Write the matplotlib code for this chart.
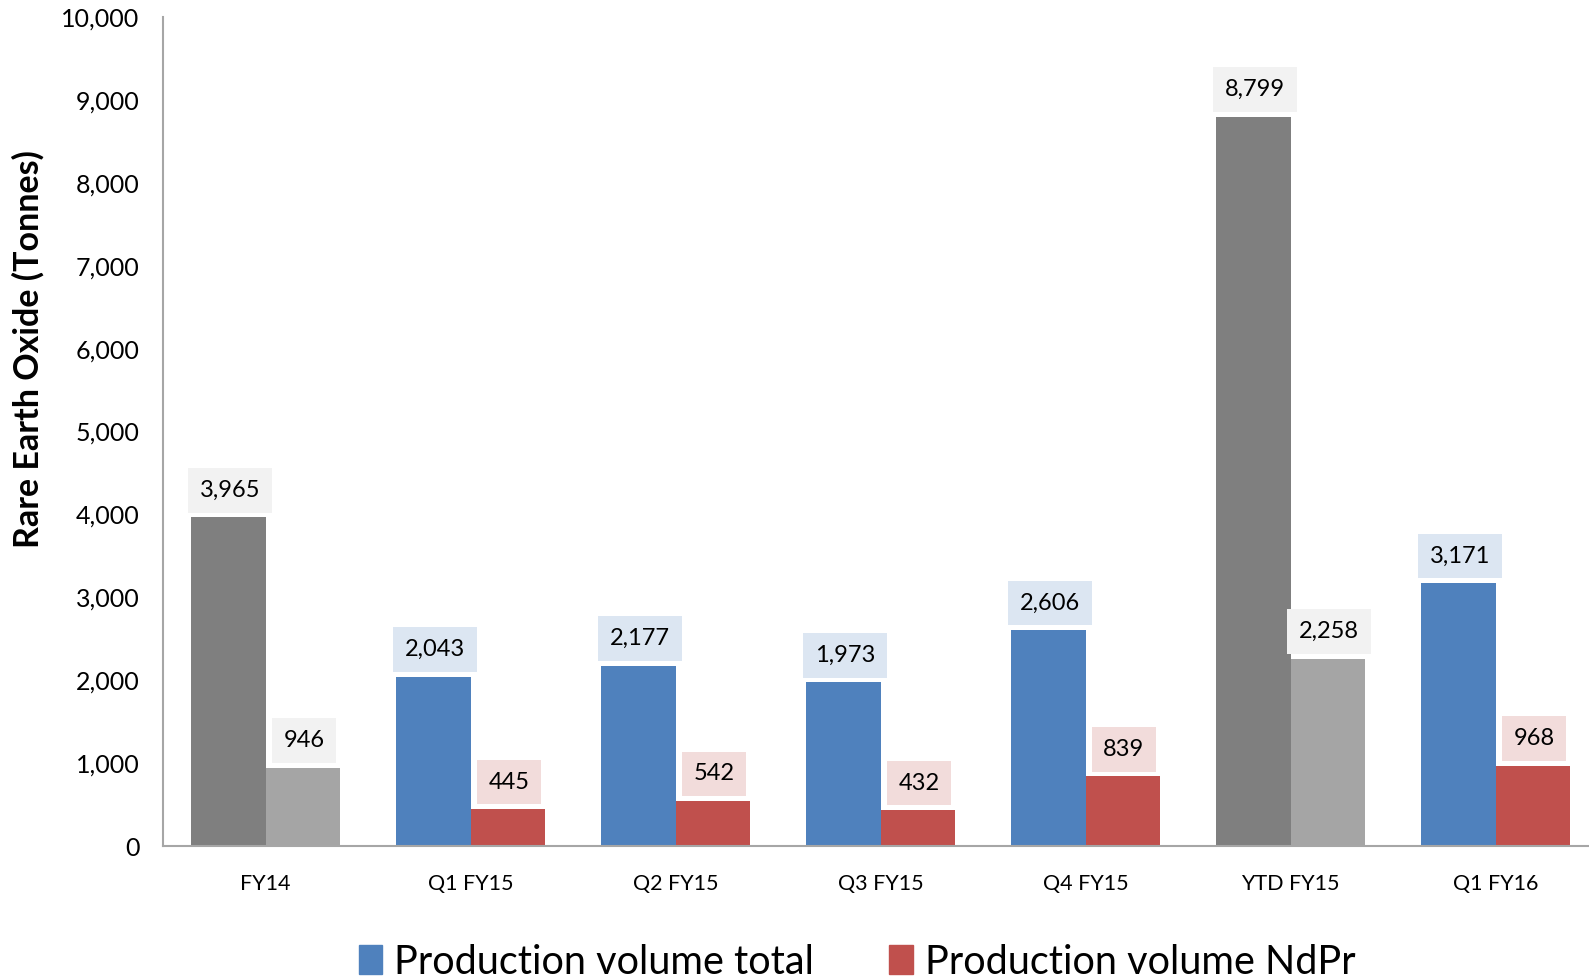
import matplotlib.pyplot as plt
from matplotlib.patches import Patch
import numpy as np

plt.rcParams['font.family'] = ['Lato', 'DejaVu Sans']

# data
categories = ['FY14', 'Q1 FY15', 'Q2 FY15', 'Q3 FY15', 'Q4 FY15', 'YTD FY15', 'Q1 FY16']
total = [3965, 2043, 2177, 1973, 2606, 8799, 3171]
ndpr = [946, 445, 542, 432, 839, 2258, 968]
is_grey = [True, False, False, False, False, True, False]

BLUE, RED = '#4f81bd', '#c0504d'
DGREY, LGREY = '#7f7f7f', '#a5a5a5'

W, H = 1589, 980
fig = plt.figure(figsize=(W / 100, H / 100), dpi=100)
ax = fig.add_axes([163 / W, (H - 846) / H, 1435 / W, (846 - 17) / H])

x = np.arange(len(categories))
bw = 0.362
c_tot = [DGREY if g else BLUE for g in is_grey]
c_nd = [LGREY if g else RED for g in is_grey]
b1 = ax.bar(x - bw / 2, total, bw, color=c_tot)
b2 = ax.bar(x + bw / 2, ndpr, bw, color=c_nd)

# value labels with tinted boxes
for bars, vals, kind in [(b1, total, 'tot'), (b2, ndpr, 'nd')]:
    for i, (rect, v) in enumerate(zip(bars, vals)):
        if is_grey[i]:
            fc = '#f2f2f2'
        else:
            fc = '#dce6f2' if kind == 'tot' else '#f2dcdb'
        ax.annotate(f'{v:,}', (rect.get_x() + rect.get_width() / 2, v),
                    xytext=(1, 19.5), textcoords='offset points',
                    ha='center', va='center', fontsize=17,
                    bbox=dict(boxstyle='square,pad=0.5', fc=fc, ec='none'))

ax.set_xlim(-0.5, len(categories) - 0.5)
ax.set_ylim(0, 10000)
ax.set_yticks(range(0, 10001, 1000))
ax.set_yticklabels([f'{t:,}' for t in range(0, 10001, 1000)], fontsize=18)
ax.set_xticks(x)
ax.set_xticklabels(categories, fontsize=15.5)
ax.tick_params(axis='y', length=0, pad=17)
ax.tick_params(axis='x', length=0, pad=20)
for s in ['top', 'right']:
    ax.spines[s].set_visible(False)
for s in ['left', 'bottom']:
    ax.spines[s].set_color('#a6a6a6')
    ax.spines[s].set_linewidth(1.5)

fig.text(28 / W, 1 - 349 / H, 'Rare Earth Oxide (Tonnes)', rotation=90,
         ha='center', va='center', fontsize=24.5, fontweight='bold')

handles = [Patch(color=BLUE, label='Production volume total'),
           Patch(color=RED, label='Production volume NdPr')]
fig.legend(handles=handles, loc='center', bbox_to_anchor=(857 / W, 1 - 962 / H),
           ncol=2, frameon=False, fontsize=28.5, handlelength=0.6, handleheight=0.75,
           handletextpad=0.3, columnspacing=1.9)

fig.savefig('out.png', dpi=100)
